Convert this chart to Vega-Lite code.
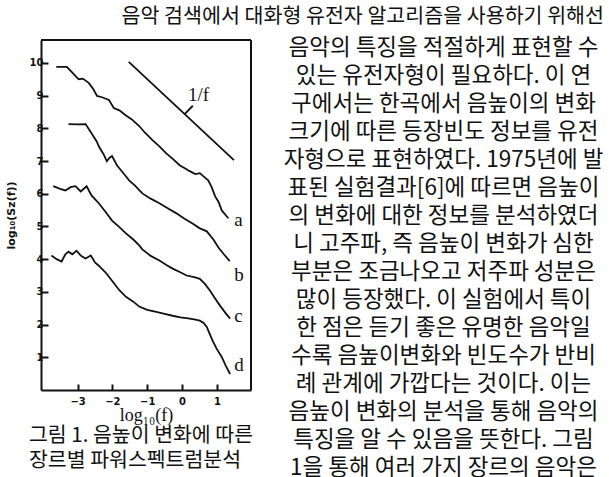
{
  "$schema": "https://vega.github.io/schema/vega-lite/v6.json",
  "padding": {"top": 7, "left": 5, "right": 0, "bottom": 0},
  "background": "white",
  "title": {"text": "음악 검색에서 대화형 유전자 알고리즘을 사용하기 위해선", "anchor": "end", "fontSize": 20.6, "font": "Noto Sans CJK KR", "fontWeight": "normal", "color": "#111", "offset": 9, "dx": -5},
  "config": {"view": {"stroke": null}, "font": "Noto Sans CJK KR"},
  "spacing": 24,
  "datasets": {
    "frame": [{"panel": "figure 1"}],
    "curves": [
      {"series": "a", "x": -3.61, "y": 9.88}, {"series": "a", "x": -3.31, "y": 9.88}, {"series": "a", "x": -3.15, "y": 9.7}, {"series": "a", "x": -2.97, "y": 9.5}, {"series": "a", "x": -2.85, "y": 9.52}, {"series": "a", "x": -2.68, "y": 9.39}, {"series": "a", "x": -2.55, "y": 9.2}, {"series": "a", "x": -2.44, "y": 8.99}, {"series": "a", "x": -2.3, "y": 8.95}, {"series": "a", "x": -2.1, "y": 8.87}, {"series": "a", "x": -1.96, "y": 8.62}, {"series": "a", "x": -1.8, "y": 8.55}, {"series": "a", "x": -1.62, "y": 8.4}, {"series": "a", "x": -1.45, "y": 8.28}, {"series": "a", "x": -1.23, "y": 8.07}, {"series": "a", "x": -1.05, "y": 7.85}, {"series": "a", "x": -0.85, "y": 7.64}, {"series": "a", "x": -0.65, "y": 7.45}, {"series": "a", "x": -0.46, "y": 7.24}, {"series": "a", "x": -0.25, "y": 7.05}, {"series": "a", "x": -0.07, "y": 6.87}, {"series": "a", "x": 0.08, "y": 6.78}, {"series": "a", "x": 0.22, "y": 6.69}, {"series": "a", "x": 0.38, "y": 6.6}, {"series": "a", "x": 0.51, "y": 6.63}, {"series": "a", "x": 0.65, "y": 6.5}, {"series": "a", "x": 0.75, "y": 6.41}, {"series": "a", "x": 0.85, "y": 6.2}, {"series": "a", "x": 0.95, "y": 5.92}, {"series": "a", "x": 1.05, "y": 5.75}, {"series": "a", "x": 1.14, "y": 5.49}, {"series": "a", "x": 1.25, "y": 5.35}, {"series": "a", "x": 1.33, "y": 5.25},
      {"series": "b", "x": -3.26, "y": 8.13}, {"series": "b", "x": -3.0, "y": 8.12}, {"series": "b", "x": -2.77, "y": 8.13}, {"series": "b", "x": -2.6, "y": 7.85}, {"series": "b", "x": -2.45, "y": 7.6}, {"series": "b", "x": -2.39, "y": 7.45}, {"series": "b", "x": -2.25, "y": 7.2}, {"series": "b", "x": -2.16, "y": 6.99}, {"series": "b", "x": -2.08, "y": 7.1}, {"series": "b", "x": -2.01, "y": 7.15}, {"series": "b", "x": -1.87, "y": 6.87}, {"series": "b", "x": -1.7, "y": 6.65}, {"series": "b", "x": -1.52, "y": 6.41}, {"series": "b", "x": -1.35, "y": 6.25}, {"series": "b", "x": -1.14, "y": 6.01}, {"series": "b", "x": -0.9, "y": 5.85}, {"series": "b", "x": -0.65, "y": 5.71}, {"series": "b", "x": -0.4, "y": 5.55}, {"series": "b", "x": -0.16, "y": 5.4}, {"series": "b", "x": 0.05, "y": 5.25}, {"series": "b", "x": 0.3, "y": 5.09}, {"series": "b", "x": 0.5, "y": 4.95}, {"series": "b", "x": 0.71, "y": 4.85}, {"series": "b", "x": 0.9, "y": 4.6}, {"series": "b", "x": 1.05, "y": 4.35}, {"series": "b", "x": 1.2, "y": 4.15}, {"series": "b", "x": 1.37, "y": 3.94},
      {"series": "c", "x": -3.7, "y": 6.23}, {"series": "c", "x": -3.5, "y": 6.15}, {"series": "c", "x": -3.35, "y": 6.1}, {"series": "c", "x": -3.2, "y": 6.2}, {"series": "c", "x": -3.06, "y": 6.23}, {"series": "c", "x": -2.91, "y": 6.07}, {"series": "c", "x": -2.74, "y": 6.23}, {"series": "c", "x": -2.6, "y": 5.95}, {"series": "c", "x": -2.39, "y": 5.71}, {"series": "c", "x": -2.2, "y": 5.45}, {"series": "c", "x": -2.01, "y": 5.18}, {"series": "c", "x": -1.8, "y": 4.98}, {"series": "c", "x": -1.61, "y": 4.79}, {"series": "c", "x": -1.4, "y": 4.6}, {"series": "c", "x": -1.23, "y": 4.42}, {"series": "c", "x": -1.14, "y": 4.3}, {"series": "c", "x": -0.9, "y": 4.1}, {"series": "c", "x": -0.65, "y": 3.96}, {"series": "c", "x": -0.45, "y": 3.82}, {"series": "c", "x": -0.27, "y": 3.71}, {"series": "c", "x": -0.05, "y": 3.6}, {"series": "c", "x": 0.13, "y": 3.5}, {"series": "c", "x": 0.35, "y": 3.45}, {"series": "c", "x": 0.51, "y": 3.4}, {"series": "c", "x": 0.65, "y": 3.25}, {"series": "c", "x": 0.8, "y": 3.04}, {"series": "c", "x": 0.95, "y": 2.8}, {"series": "c", "x": 1.09, "y": 2.58}, {"series": "c", "x": 1.25, "y": 2.35}, {"series": "c", "x": 1.38, "y": 2.18},
      {"series": "d", "x": -3.75, "y": 4.11}, {"series": "d", "x": -3.6, "y": 4.0}, {"series": "d", "x": -3.46, "y": 3.93}, {"series": "d", "x": -3.35, "y": 4.15}, {"series": "d", "x": -3.26, "y": 4.23}, {"series": "d", "x": -3.15, "y": 4.15}, {"series": "d", "x": -3.03, "y": 4.26}, {"series": "d", "x": -2.9, "y": 4.1}, {"series": "d", "x": -2.77, "y": 4.02}, {"series": "d", "x": -2.62, "y": 4.11}, {"series": "d", "x": -2.5, "y": 3.9}, {"series": "d", "x": -2.39, "y": 3.8}, {"series": "d", "x": -2.2, "y": 3.6}, {"series": "d", "x": -2.01, "y": 3.34}, {"series": "d", "x": -1.8, "y": 3.05}, {"series": "d", "x": -1.61, "y": 2.85}, {"series": "d", "x": -1.4, "y": 2.7}, {"series": "d", "x": -1.23, "y": 2.55}, {"series": "d", "x": -1.0, "y": 2.45}, {"series": "d", "x": -0.74, "y": 2.39}, {"series": "d", "x": -0.5, "y": 2.33}, {"series": "d", "x": -0.27, "y": 2.27}, {"series": "d", "x": -0.05, "y": 2.22}, {"series": "d", "x": 0.13, "y": 2.2}, {"series": "d", "x": 0.35, "y": 2.16}, {"series": "d", "x": 0.51, "y": 2.12}, {"series": "d", "x": 0.62, "y": 2.05}, {"series": "d", "x": 0.71, "y": 1.93}, {"series": "d", "x": 0.8, "y": 1.7}, {"series": "d", "x": 0.88, "y": 1.5}, {"series": "d", "x": 1.0, "y": 1.25}, {"series": "d", "x": 1.14, "y": 1.01}, {"series": "d", "x": 1.25, "y": 0.75}, {"series": "d", "x": 1.38, "y": 0.49}
    ],
    "slope": [{"x": -1.53, "y": 10.03}, {"x": 1.49, "y": 7.03}],
    "leader": [{"x": 0.08, "y": 8.44}, {"x": 0.31, "y": 8.69}],
    "labels": [
      {"label": "a", "x": 1.5, "y": 5.2}, {"label": "b", "x": 1.5, "y": 3.52}, {"label": "c", "x": 1.5, "y": 2.26}, {"label": "d", "x": 1.5, "y": 0.76}, {"label": "1/f", "x": 0.17, "y": 9.02}
    ],
    "body": [
      {"line": 0, "text": "음악의 특징을 적절하게 표현할 수"},
      {"line": 1, "text": "있는 유전자형이 필요하다. 이 연"},
      {"line": 2, "text": "구에서는 한곡에서 음높이의 변화"},
      {"line": 3, "text": "크기에 따른 등장빈도 정보를 유전"},
      {"line": 4, "text": "자형으로 표현하였다. 1975년에 발"},
      {"line": 5, "text": "표된 실험결과[6]에 따르면 음높이"},
      {"line": 6, "text": "의 변화에 대한 정보를 분석하였더"},
      {"line": 7, "text": "니 고주파, 즉 음높이 변화가 심한"},
      {"line": 8, "text": "부분은 조금나오고 저주파 성분은"},
      {"line": 9, "text": "많이 등장했다. 이 실험에서 특이"},
      {"line": 10, "text": "한 점은 듣기 좋은 유명한 음악일"},
      {"line": 11, "text": "수록 음높이변화와 빈도수가 반비"},
      {"line": 12, "text": "례 관계에 가깝다는 것이다. 이는"},
      {"line": 13, "text": "음높이 변화의 분석을 통해 음악의"},
      {"line": 14, "text": "특징을 알 수 있음을 뜻한다. 그림"},
      {"line": 15, "text": "1을 통해 여러 가지 장르의 음악은"}
    ]
  },
  "hconcat": [
    {
      "width": 210,
      "height": 350,
      "title": {"text": ["그림 1. 음높이 변화에 따른", "장르별 파워스펙트럼분석"], "orient": "bottom", "anchor": "start", "frame": "group", "dx": -12, "fontSize": 20.5, "font": "Noto Sans CJK KR", "fontWeight": "normal", "lineHeight": 25, "offset": 2, "color": "#111"},
      "resolve": {"axis": {"x": "independent", "y": "independent"}},
      "layer": [
        {"data": {"name": "curves"}, "mark": {"type": "line", "color": "#111", "strokeWidth": 1.8},
          "encoding": {
            "x": {"field": "x", "type": "quantitative", "scale": {"domain": [-4.05, 1.98], "nice": false, "zero": false},
              "axis": {"orient": "bottom", "values": [-3, -2, -1, 0, 1], "format": "d", "domain": true, "domainColor": "#111", "domainWidth": 2, "grid": false, "ticks": true, "tickSize": -6, "tickWidth": 2, "tickColor": "#111", "labelOverlap": false, "labelFont": "DejaVu Sans", "labelFontWeight": "bold", "labelFontSize": 10, "labelColor": "#111", "labelPadding": 12, "title": "log₁₀(f)", "titleFont": "Liberation Serif", "titleFontSize": 18, "titleFontWeight": "normal", "titleColor": "#111", "titlePadding": 0}},
            "y": {"field": "y", "type": "quantitative", "scale": {"domain": [0, 10.7], "nice": false, "zero": false},
              "axis": {"orient": "left", "values": [1, 2, 3, 4, 5, 6, 7, 8, 9, 10], "format": "d", "domain": true, "domainColor": "#111", "domainWidth": 2, "grid": false, "ticks": true, "tickSize": -7, "tickWidth": 2, "tickColor": "#111", "labelOverlap": false, "labelFont": "DejaVu Sans", "labelFontWeight": "bold", "labelFontSize": 10, "labelColor": "#111", "labelPadding": 5, "title": "log₁₀(Sᴢ(f))", "titleFont": "DejaVu Sans", "titleFontSize": 11, "titleFontWeight": "bold", "titleColor": "#111", "titlePadding": 0, "minExtent": 25, "maxExtent": 25}},
            "detail": {"field": "series"}
          }},
        {"data": {"name": "slope"}, "mark": {"type": "line", "color": "#111", "strokeWidth": 1.8},
          "encoding": {
            "x": {"field": "x", "type": "quantitative", "axis": null},
            "y": {"field": "y", "type": "quantitative", "axis": null}
          }},
        {"data": {"name": "leader"}, "mark": {"type": "line", "color": "#111", "strokeWidth": 1.8},
          "encoding": {
            "x": {"field": "x", "type": "quantitative", "axis": null},
            "y": {"field": "y", "type": "quantitative", "axis": null}
          }},
        {"data": {"name": "labels"}, "mark": {"type": "text", "font": "Liberation Serif", "fontSize": 19, "align": "left", "baseline": "middle", "color": "#111"},
          "encoding": {
            "x": {"field": "x", "type": "quantitative", "axis": null},
            "y": {"field": "y", "type": "quantitative", "axis": null},
            "text": {"field": "label"}
          }},
        {"data": {"name": "frame"}, "mark": {"type": "rule", "color": "#111", "strokeWidth": 2},
          "encoding": {
            "y": {"datum": 10.7, "type": "quantitative", "axis": null}
          }},
        {"data": {"name": "frame"}, "mark": {"type": "rule", "color": "#111", "strokeWidth": 2},
          "encoding": {
            "x": {"datum": 1.98, "type": "quantitative", "axis": null}
          }}
      ]
    },
    {
      "width": 331,
      "height": 440,
      "data": {"name": "body"},
      "mark": {"type": "text", "font": "Noto Sans CJK KR", "fontSize": 22.5, "align": "center", "baseline": "middle", "color": "#111"},
      "encoding": {
        "y": {"field": "line", "type": "quantitative", "scale": {"domain": [-0.286, 15.43], "reverse": true, "nice": false, "zero": false}, "axis": null},
        "text": {"field": "text"}
      }
    }
  ]
}
